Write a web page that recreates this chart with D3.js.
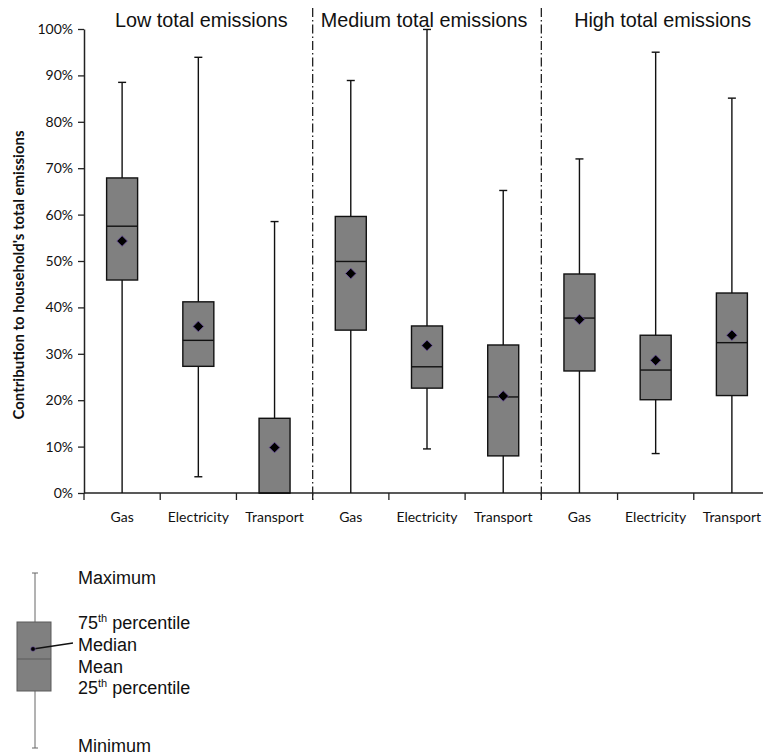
<!DOCTYPE html>
<html>
<head>
<meta charset="utf-8">
<script src="https://cdn.jsdelivr.net/npm/d3@7"></script>
<style>
  body { margin: 0; background: #fff; }
  svg { display: block; }
</style>
</head>
<body>
<div id="chart"></div>
<script>
// groups and categories
var groups = ["Low total emissions", "Medium total emissions", "High total emissions"];
var sources = ["Gas", "Electricity", "Transport"];

// box statistics per group (in %), order: Gas, Electricity, Transport
var minVals    = [[0, 3.5, 0],    [0, 9.5, 0],    [0, 8.5, 0]];
var q1Vals     = [[45.9, 27.3, 0], [35.1, 22.6, 8.0], [26.3, 20.1, 21.0]];
var medianVals = [[57.5, 32.9, 0], [49.9, 27.2, 20.7], [37.7, 26.5, 32.4]];
var meanVals   = [[54.3, 35.9, 9.8], [47.3, 31.8, 20.9], [37.4, 28.6, 34.0]];
var q3Vals     = [[67.9, 41.2, 16.1], [59.6, 36.0, 31.9], [47.2, 34.0, 43.1]];
var maxVals    = [[88.5, 93.9, 58.5], [88.9, 99.9, 65.2], [72.0, 95.0, 85.1]];

var yTicks = [0, 10, 20, 30, 40, 50, 60, 70, 80, 90, 100];

var legendLabels = ["Maximum", "75th percentile", "Median", "Mean", "25th percentile", "Minimum"];

var width = 763, height = 755;
var margin = {top: 29, right: -7, bottom: 262, left: 84};

var svg = d3.select("#chart").append("svg")
    .attr("width", width)
    .attr("height", height);

// build flat table
var data = [];
groups.forEach(function (g, gi) {
  sources.forEach(function (s, si) {
    data.push({
      key: gi + "-" + si, group: g, source: s,
      min: minVals[gi][si], q1: q1Vals[gi][si], median: medianVals[gi][si],
      mean: meanVals[gi][si], q3: q3Vals[gi][si], max: maxVals[gi][si]
    });
  });
});

var x = d3.scaleBand()
    .domain(data.map(d => d.key))
    .range([margin.left, width - margin.right])
    .paddingInner(0).paddingOuter(0);

var y = d3.scaleLinear()
    .domain([0, 100])
    .range([height - margin.bottom, margin.top]);

var boxW = 31;
var labelFont = "Lato, 'Open Sans', sans-serif";
var titleFont = "'Liberation Sans', Arial, sans-serif";

// y axis
var yAxis = svg.append("g")
    .attr("transform", "translate(" + margin.left + ",0)")
    .call(d3.axisLeft(y).tickValues(yTicks).tickFormat(d => d + "%").tickSize(6).tickSizeOuter(0));
yAxis.select(".domain").attr("stroke", "#222").attr("stroke-width", 1.5);
yAxis.selectAll(".tick line").attr("stroke", "#222").attr("stroke-width", 1.3);
yAxis.selectAll("text")
    .attr("x", -11)
    .style("font-family", labelFont)
    .style("font-size", "14px")
    .attr("fill", "#111");

// x axis: ticks on band boundaries
var xAxisG = svg.append("g")
    .attr("transform", "translate(0," + y(0) + ")");
xAxisG.append("line")
    .attr("x1", margin.left).attr("x2", width - margin.right)
    .attr("stroke", "#222").attr("stroke-width", 1.5);
xAxisG.selectAll(".xtick")
    .data(data)
    .enter().append("line")
    .attr("class", "xtick")
    .attr("x1", d => x(d.key)).attr("x2", d => x(d.key))
    .attr("y1", 0).attr("y2", 7)
    .attr("stroke", "#222").attr("stroke-width", 1.3);
xAxisG.selectAll(".xlab")
    .data(data)
    .enter().append("text")
    .attr("class", "xlab")
    .attr("x", d => x(d.key) + x.bandwidth() / 2)
    .attr("y", 29)
    .attr("text-anchor", "middle")
    .style("font-family", labelFont)
    .style("font-size", "14px")
    .attr("fill", "#111")
    .text(d => d.source);

// axis title
svg.append("text")
    .attr("transform", "translate(24," + (y(50) + 14) + ") rotate(-90)")
    .attr("text-anchor", "middle")
    .style("font-family", labelFont)
    .style("font-size", "15px")
    .style("font-weight", "bold")
    .attr("fill", "#111")
    .text("Contribution to household's total emissions");

// group dividers (dash-dot)
[3, 6].forEach(function (i) {
  var xx = x(data[i].key);
  svg.append("line")
    .attr("x1", xx).attr("x2", xx)
    .attr("y1", 8).attr("y2", y(0) + 7)
    .attr("stroke", "#222").attr("stroke-width", 1.3)
    .attr("stroke-dasharray", "9,3,1.5,3");
});

// group titles
var titleShift = [3, -3, 7];
groups.forEach(function (g, gi) {
  var x0 = x(data[gi * 3].key), x1 = x(data[gi * 3 + 2].key) + x.bandwidth();
  svg.append("text")
    .attr("x", (x0 + x1) / 2 + titleShift[gi])
    .attr("y", 27)
    .attr("text-anchor", "middle")
    .style("font-family", titleFont)
    .style("font-size", "19.8px")
    .attr("fill", "#111")
    .text(g);
});

// boxes
var box = svg.selectAll(".box")
    .data(data)
    .enter().append("g")
    .attr("class", "box")
    .attr("transform", d => "translate(" + (x(d.key) + x.bandwidth() / 2) + ",0)");

box.append("line")
    .attr("y1", d => y(d.min)).attr("y2", d => y(d.max))
    .attr("stroke", "#111").attr("stroke-width", 1.4);
box.append("line")
    .attr("x1", -4).attr("x2", 4)
    .attr("y1", d => y(d.max)).attr("y2", d => y(d.max))
    .attr("stroke", "#111").attr("stroke-width", 1.4);
box.filter(d => d.min > 0).append("line")
    .attr("x1", -4).attr("x2", 4)
    .attr("y1", d => y(d.min)).attr("y2", d => y(d.min))
    .attr("stroke", "#111").attr("stroke-width", 1.4);
box.append("rect")
    .attr("x", -boxW / 2).attr("width", boxW)
    .attr("y", d => y(d.q3))
    .attr("height", d => y(d.q1) - y(d.q3))
    .attr("fill", "#808080")
    .attr("stroke", "#111").attr("stroke-width", 1.4);
box.append("line")
    .attr("x1", -boxW / 2).attr("x2", boxW / 2)
    .attr("y1", d => y(d.median)).attr("y2", d => y(d.median))
    .attr("stroke", "#111").attr("stroke-width", 1.4);
box.append("path")
    .attr("transform", d => "translate(0," + y(d.mean) + ")")
    .attr("d", d3.symbol(d3.symbolDiamond2, 72))
    .attr("fill", "#000")
    .attr("stroke", "#6b4fa0").attr("stroke-width", 0.8);

// legend
var lg = svg.append("g");
var lx = 35, lTop = 573, lQ3 = 622, lMed = 659, lMean = 649, lQ1 = 691, lBot = 748;
lg.append("line").attr("x1", lx).attr("x2", lx).attr("y1", lTop).attr("y2", lBot)
  .attr("stroke", "#666").attr("stroke-width", 1);
lg.append("line").attr("x1", lx - 3).attr("x2", lx + 3).attr("y1", lTop).attr("y2", lTop)
  .attr("stroke", "#666").attr("stroke-width", 1);
lg.append("line").attr("x1", lx - 3).attr("x2", lx + 3).attr("y1", lBot).attr("y2", lBot)
  .attr("stroke", "#666").attr("stroke-width", 1);
lg.append("rect").attr("x", 17).attr("y", lQ3).attr("width", 34).attr("height", lQ1 - lQ3)
  .attr("fill", "#808080").attr("stroke", "#5a5a5a").attr("stroke-width", 1);
lg.append("line").attr("x1", 17).attr("x2", 51).attr("y1", lMed).attr("y2", lMed)
  .attr("stroke", "#5a5a5a").attr("stroke-width", 1);
lg.append("line").attr("x1", 33).attr("x2", 73).attr("y1", lMean).attr("y2", 643)
  .attr("stroke", "#111").attr("stroke-width", 1.3);
lg.append("circle").attr("cx", 33).attr("cy", lMean).attr("r", 2.3)
  .attr("fill", "#000").attr("stroke", "#6b4fa0").attr("stroke-width", 0.6);

var legendY = [584, 629, 651, 673, 694, 752];
legendLabels.forEach(function (t, i) {
  var tx = lg.append("text")
    .attr("x", 78).attr("y", legendY[i])
    .style("font-family", titleFont)
    .style("font-size", "18px")
    .attr("fill", "#111");
  var m = t.match(/^(\d+)(th)(.*)$/);
  if (m) {
    tx.append("tspan").text(m[1]);
    tx.append("tspan").attr("dy", -7).style("font-size", "11px").text(m[2]);
    tx.append("tspan").attr("dy", 7).text(m[3]);
  } else {
    tx.text(t);
  }
});
</script>
</body>
</html>
